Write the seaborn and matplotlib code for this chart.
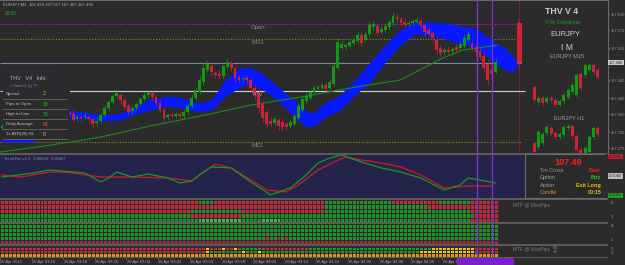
import matplotlib
matplotlib.use("Agg")
import matplotlib.pyplot as plt
from matplotlib.colors import ListedColormap
from matplotlib.patches import Rectangle
import numpy as np
import pandas as pd
import seaborn as sns

# ---------------- data ----------------
# EURJPY M1 candles, price = 107 + points/1000, one candle per minute
open_pts = [325,330,322,327,335,330,340,335,345,350,
            342,352,347,355,352,360,357,365,360,347,
            352,352,352,347,337,342,357,375,390,405,
            407,395,380,367,375,385,397,407,412,402,
            387,370,352,357,355,360,355,365,380,400,
            415,440,470,480,462,460,455,477,487,475,
            452,447,450,445,425,415,385,365,342,337,
            345,340,335,330,335,350,370,392,400,415,
            422,425,432,425,435,475,525,527,530,537,
            542,557,545,560,577,580,565,570,577,587,
            602,597,590,585,587,590,592,582,570,562,
            545,525,515,520,517,527,525,530,545,535,
            527,517,505,485,470,465,None,None,None,None,
            None,587]
close_pts = [330,322,327,335,330,340,335,345,350,342,
             352,347,355,360,362,365,365,357,345,352,
             350,355,347,335,342,357,375,390,405,412,
             395,377,365,375,385,397,407,415,402,387,
             370,350,357,355,360,355,365,380,400,420,
             445,475,485,465,457,455,480,490,475,450,
             445,450,445,425,407,375,350,335,335,347,
             330,327,327,340,355,380,397,405,415,425,
             427,432,422,440,480,540,535,532,540,545,
             557,537,560,582,585,562,572,580,590,605,
             597,587,582,587,592,595,582,565,560,550,
             520,512,520,515,522,520,535,550,560,525,
             515,502,475,445,460,490,None,None,None,None,
             None,487]
wick_up = [6,4,8,5,6,9,4,6,8,5, 6,4,9,6,5,8,6,4,9,6,
           5,8,6,4,9,6,8,5,6,10, 6,5,8,6,5,6,9,8,6,5,
           8,6,5,9,6,5,8,6,10,8, 9,12,10,8,6,9,5,10,8,6,
           5,6,8,5,6,9,8,6,10,8, 6,9,5,6,8,10,6,9,5,8,
           6,5,8,6,9,11,10,6,8,6, 9,8,6,10,8,6,9,8,6,11,
           8,6,9,5,6,8,9,6,8,6, 10,8,6,9,6,8,6,9,8,10,
           6,8,9,10,8,11,0,0,0,0, 0,6]
wick_dn = [5,6,4,8,6,5,8,4,6,9, 5,8,6,4,8,6,5,9,6,4,
           8,5,6,9,6,4,5,8,6,4, 9,6,5,8,6,5,4,6,9,8,
           6,10,8,5,6,8,5,6,4,5, 6,8,5,10,8,6,5,4,8,9,
           6,5,8,9,10,12,9,8,6,5, 10,8,6,5,4,6,5,4,6,5,
           4,6,8,5,4,6,5,6,4,5, 4,8,5,4,6,8,5,4,6,4,
           6,8,5,6,4,5,8,9,6,8, 10,8,6,5,8,6,5,4,6,8,
           9,8,10,12,8,6,0,0,0,0, 0,8]

# blue cloud (candle index, upper / lower points)
cloud_idx = [0,8,13,16.5,21,25,30,34,37.5,42.5,46,50,53,56.5,60,62.3,65.3,69,73,76.7,
             78.7,81.8,85.6,89.4,93.2,97,100.8,104.6,108.4,112.2,116,119.7,122.3,124.8,127.3,129.1,130.4]
cloud_hi = [300,300,370,370,365,357.5,362.5,380,397.5,405,400,387.5,395,445,475,477.5,465,435,402.5,370,
            362.5,387.5,407.5,445,490,532.5,570,590,590,587.5,580,575,557.5,540,525,507.5,490]
cloud_lo = [290,290,335,345,350,342.5,345,360,370,380,375,365,370,405,425,435,425,400,362.5,330,
            327.5,352.5,370,407.5,440,490,532.5,560,555,547.5,535,527.5,507.5,487.5,470,465,475]

# moving average
ma_idx = [-0.5,12.2,24.8,37.5,52.7,62.8,75.4,88.1,100.8,111.6,116.7,125.3]
ma_pts = [265,282,302,330,360,382,402,425,445,500,520,532]

# level lines (points)
level_names = ["Open", "MR1", "TPV", "MS1"]
level_pts = [585, 547.5, 417.5, 290]
bid_pts = 487.5
price_ticks = [107.610, 107.570, 107.525, 107.445, 107.400, 107.360, 107.315, 107.275]

# oscillator ("Trend Fire") lines
red_idx = [0,5,12,16,25,33,42,48,51,54,58,63,67,72,75,80,84,87,91,96,101,106,112,118,124]
red_val = [25,23,28,28,23,23,22,19,28,36,32,20,10,8,15,30,38,43,40,37,33,25,12,14,14]
green_idx = [0,8,12,21,25,27,29,33,37,42,45,48,51,53,58,63,68,73,77,80,83,86,91,96,101,106,112,116,118,121,125]
green_val = [23,27,30,27,18,22,28,23,26,22,17,19,28,33,32,18,5,12,25,37,42,45,38,32,28,22,10,15,22,20,17]

# crosshair times (candle index)
cross_idx = [120.25, 124.05]
current_idx = 131

# MTF heat panels (run-length coded rows; R red, G green, L light green, Y yellow, O orange, P pink)
panel1 = ["R50 G4 R28 G17 R12 G8 R7",
          "R82 G26 R18",
          "R48 G13 R21 G37 R7",
          "G48 R13 G59 R6",
          "G50 L11 G5 L5 G48 R7"]
panel2 = ["G126", "G126", "G126",
          "G67 R1 G2 R1 G1 R1 G53",
          "P126"]
panel3 = ["R52 Y1 R3 Y1 R2 Y1 R1 G5 R12 G31 Y11 R6",
          "R52 Y1 G8 Y1 G3 Y1 G40 Y14 R6",
          "O126"]

time_idx = [0,8,16,24,32,40,48,56,64,72,80,88,96,104,112]
time_labels = ["26 Apr 2012","26 Apr 03:10","26 Apr 03:18","26 Apr 03:26","26 Apr 03:34",
               "26 Apr 03:42","26 Apr 03:50","26 Apr 03:58","26 Apr 04:06","26 Apr 04:14",
               "26 Apr 04:22","26 Apr 04:30","26 Apr 04:38","26 Apr 04:46","26 Apr 04:54"]

# mini charts (relative values)
m15_open = [23,8,12,8,12,10,5,9,13,18,15,36,35,40,45,40]
m15_close = [10,12,7,12,10,5,9,15,20,25,35,22,45,45,38,33]
h1_open = [17,13,17,27,32,27,23,25,32,34,24,10,6,8,23,32]
h1_close = [8,28,26,33,26,23,26,33,34,24,10,6,12,23,32,26]

info_labels = ["Spread", "Pips to Open", "High to Low", "Daily Average", "3x ATR(20) SL"]
info_values = ["2", "16", "55", "81", "8"]
info_colors = ["#e0a020", "#20b020", "#20a020", "#e05a20", "#e0a020"]

# ---------------- style ----------------
W, H = 625, 265
BG = "#2b2b2b"
GREEN = "#129a12"
RED = "#d0203a"
sns.set_theme(style="dark", rc={"axes.facecolor": BG, "figure.facecolor": BG})
plt.rcParams["font.family"] = ["Liberation Sans", "DejaVu Sans"]

fig = plt.figure(figsize=(W / 100, H / 100), dpi=100)
fig.patch.set_facecolor(BG)

X0, DX = 2.0, 3.95
XL = (-X0 / DX, (608 - X0) / DX)


def pax(x0, y0, x1, y1, fc=BG, z=1):
    a = fig.add_axes([x0 / W, 1 - y1 / H, (x1 - x0) / W, (y1 - y0) / H], zorder=z)
    a.set_facecolor(fc)
    for s in a.spines.values():
        s.set_visible(False)
    a.set_xticks([])
    a.set_yticks([])
    return a


def T(x, y, s, **kw):
    kw.setdefault("color", "#a8a8a8")
    kw.setdefault("fontsize", 3.5)
    kw.setdefault("va", "center")
    return fig.text(x / W, 1 - y / H, s, **kw)


def P(v):
    return 107 + v / 1000.0


# separators
for y0, y1 in [(153, 155), (198, 200), (222, 224), (244, 246), (256.5, 257.5)]:
    fig.add_artist(Rectangle((0, 1 - y1 / H), 608 / W, (y1 - y0) / H,
                             transform=fig.transFigure, color="#5a5a5a", lw=0))

# ---------------- main chart ----------------
ax = pax(0, 0, 608, 153)
ax.fill_between(cloud_idx, [P(v) for v in cloud_lo], [P(v) for v in cloud_hi],
                color="#0818ff", lw=0, zorder=2)
sns.lineplot(x=ma_idx, y=[P(v) for v in ma_pts], ax=ax, color="#1c8a1c", lw=0.8,
             legend=False, zorder=2.5)
n = len(open_pts)
o_p = [None if v is None else P(v) for v in open_pts]
c_p = [None if v is None else P(v) for v in close_pts]
ws = [0.72] * (n - 1) + [1.4]
for k in range(n):
    if o_p[k] is None:
        continue
    col = GREEN if c_p[k] >= o_p[k] else RED
    lo, hi = min(o_p[k], c_p[k]), max(o_p[k], c_p[k])
    ax.vlines(k, lo - wick_dn[k] / 1000, hi + wick_up[k] / 1000, color=col, lw=0.5, zorder=3)
    ax.bar(k, max(hi - lo, 0.0012), bottom=lo, width=ws[k], color=col, lw=0, zorder=4)

end_i = current_idx + 0.3
ax.hlines(P(level_pts[0]), XL[0], end_i, color="#c020c0", lw=0.8, linestyles=(0, (1, 1.5)), zorder=1.5)
ax.hlines(P(level_pts[1]), XL[0], end_i, color="#8a8a28", lw=0.8, linestyles=(0, (1, 1.5)), zorder=1.5)
ax.hlines(P(bid_pts), XL[0], end_i, color="#7a88a8", lw=0.8, zorder=1.5)
ax.hlines(P(level_pts[2]), XL[0], end_i + 1, color="#d0d0d0", lw=0.8, zorder=1.5)
ax.hlines(P(level_pts[3]), XL[0], end_i, color="#8a8a28", lw=0.8, linestyles=(0, (1, 1.5)), zorder=1.5)
for nm, lv in zip(level_names, level_pts):
    ax.text(64.8, P(lv) - 0.003, nm, color="#8a8a8a", fontsize=4.3, ha="center", va="top", zorder=5)

for xi in cross_idx:
    ax.axvline(xi, color="#8a2be2", lw=0.9, zorder=6)
ax.axvline(current_idx - 0.1, color="#8b1a2a", lw=0.8, zorder=1)

ax.set_xlim(*XL)
ax.set_ylim(P(262.5), P(645))
ax.set_xlabel("")
ax.set_ylabel("")
ax.yaxis.tick_right()
ax.set_yticks(price_ticks)
ax.set_yticklabels([f"{p:.3f}" for p in price_ticks])
ax.tick_params(axis="y", colors="#7a7a7a", labelcolor="#9a9a9a", labelsize=2.9, length=1.5, pad=0.6,
               width=0.5, right=True, left=False)
for s in ["top", "right"]:
    ax.spines[s].set_visible(True)
    ax.spines[s].set_color("#6a6a6a")
    ax.spines[s].set_linewidth(0.8)

# current price label on the scale
T(609, 62.5, "107.490", fontsize=2.8, color="#202020",
  bbox=dict(boxstyle="square,pad=0.2", fc="#c8c8c8", ec="none"), zorder=10)

# header texts
T(3, 5, "EURJPY,M1  107.493 107.517 107.487 107.493", fontsize=3.1, color="#b0b0b0")
T(5, 13.5, "16/30", fontsize=3.4, color="#20a020")

# info box
fig.add_artist(Rectangle((3 / W, 1 - 140 / H), 67 / W, 70 / H, transform=fig.transFigure,
                         fc=BG, ec="none", zorder=8))
fig.add_artist(Rectangle((3 / W, 1 - 91 / H), 52 / W, 21 / H, transform=fig.transFigure,
                         fc="none", ec="#2a2a90", lw=0.6, ls=(0, (1, 1)), zorder=9))
T(10, 79, "THV   V4   Info", fontsize=3.9, color="#b8b8c8", zorder=10)
T(10, 86, "® Peter G. (c) ??", fontsize=2.6, color="#8a8a9a", zorder=10)
for k, (lab, val, vc) in enumerate(zip(info_labels, info_values, info_colors)):
    yy = 94 + 10 * k
    T(6, yy, lab, fontsize=3.2, color="#c0c0c0", zorder=10)
    T(43, yy, val, fontsize=4.0, color=vc, zorder=10)
    fig.add_artist(Rectangle((3 / W, 1 - (yy + 5.5) / H), 65 / W, 0.9 / H,
                             transform=fig.transFigure, fc="#5e5e5e", ec="none", zorder=9))

# right side panel texts
T(562, 12, "THV V 4", fontsize=6.3, color="#c8c8c8", weight="bold", ha="center")
T(563, 22.5, "© By Cobraforex", fontsize=3.4, color="#20a020", ha="center")
T(565, 34.5, "EURJPY", fontsize=5.5, color="#d0d0d0", ha="center")
T(567, 48, "I M", fontsize=6.2, color="#d0d0d0", ha="center")
T(567, 57, "EURJPY M15", fontsize=4.0, color="#a0a0a0", ha="center")
T(569, 118, "EURJPY H1", fontsize=4.0, color="#a0a0a0", ha="center")

# mini charts
am = pax(532, 60, 600, 107, fc="none", z=3)
am.patch.set_alpha(0)
for k, (o, c) in enumerate(zip(m15_open, m15_close)):
    col = GREEN if c >= o else RED
    am.vlines(k, min(o, c) - 2, max(o, c) + 2, color=col, lw=0.5)
    am.bar(k, max(abs(c - o), 1), bottom=min(o, c), width=0.7, color=col, lw=0)
am.set_xlim(-0.5, 15.5)
am.set_ylim(3, 50)
ah = pax(532, 120, 600, 153, fc="none", z=3)
ah.patch.set_alpha(0)
for k, (o, c) in enumerate(zip(h1_open, h1_close)):
    col = GREEN if c >= o else RED
    ah.vlines(k, min(o, c) - 2, max(o, c) + 2, color=col, lw=0.5)
    ah.bar(k, max(abs(c - o), 1), bottom=min(o, c), width=0.7, color=col, lw=0)
ah.set_xlim(-0.5, 15.5)
ah.set_ylim(7, 40)

# ---------------- oscillator panel ----------------
ai = pax(0, 155, 608, 198, fc="#23234c")
sns.lineplot(x=red_idx, y=red_val, ax=ai, color="#d4182a", lw=0.9, legend=False)
sns.lineplot(x=green_idx, y=green_val, ax=ai, color="#1a9a1a", lw=0.9, legend=False)
for xi in cross_idx:
    ai.axvline(xi, color="#8a2be2", lw=0.9)
ai.set_xlim(*XL)
ai.set_ylim(2, 45)
ai.set_xlabel("")
ai.set_ylabel("")
T(4, 158.5, "Trend Fire v1.3  -0.00606  -0.00607", fontsize=2.8, color="#9090a8")

fig.add_artist(Rectangle((525 / W, 1 - 198 / H), 80 / W, 44 / H, transform=fig.transFigure,
                         fc="#2a2a2a", ec="#707070", lw=0.7, zorder=5))
fig.add_artist(Rectangle((605 / W, 1 - 198 / H), 3 / W, 44 / H, transform=fig.transFigure,
                         fc=BG, ec="none", zorder=5))
T(568, 162.5, "107.49", fontsize=6.5, color="#ff2020", weight="bold", ha="center", zorder=6)
rows = [("Tm Cross", "Bear", "#e02020", "#a0a0a0"), ("Option", "Buy", "#20c020", "#a0a0a0"),
        ("Action", "Exit Long", "#e8c020", "#a0a0a0"), ("Candle", "00:15", "#e8c020", "#e09020")]
for k, (lab, val, vc, lc) in enumerate(rows):
    yy = 170.5 + 7.3 * k
    T(540, yy, lab, fontsize=3.9, color=lc, zorder=6)
    T(601, yy, val, fontsize=3.9, color=vc, ha="right", weight="bold", zorder=6)
T(570, 192.5, ":", fontsize=3.9, color="#e09020", zorder=6)

# indicator scale value boxes
for yy, fc, tx in [(156.5, "#c02030", "-0.0060"), (176, "#bcbcbc", "-0.0060"), (195.5, "#20a020", "-0.0061")]:
    T(609, yy, tx, fontsize=2.7, color="#202020",
      bbox=dict(boxstyle="square,pad=0.2", fc=fc, ec="none"), zorder=10)

# ---------------- MTF heat panels ----------------
codes = {"R": 0, "G": 1, "L": 2, "Y": 3, "O": 4, "P": 5}
cmap = ListedColormap(["#c4283a", "#1c9426", "#3cbc3c", "#f0c418", "#e8921a", "#a02a3e"])


def decode(rows_spec):
    mat = []
    for spec in rows_spec:
        row = []
        for tok in spec.split():
            row += [codes[tok[0]]] * int(tok[1:])
        mat.append(row)
    return pd.DataFrame(mat)


for (y0, y1), spec in [((200, 222), panel1), ((224, 244), panel2), ((246.5, 256.5), panel3)]:
    ah_ = pax(0, y0, 608, y1)
    sns.heatmap(decode(spec), ax=ah_, cmap=cmap, vmin=-0.5, vmax=5.5, cbar=False,
                linewidths=0.5, linecolor="#2e2e2e", xticklabels=False, yticklabels=False)
    for xi in cross_idx:
        ah_.axvline(xi + 0.5, color="#8a2be2", lw=0.9)
    ah_.set_xlim(XL[0] + 0.5, XL[1] + 0.5)
    ah_.set_ylim(len(spec), 0)
    ah_.set_xlabel("")
    ah_.set_ylabel("")

T(513, 206, "MTF @ MaxPips", fontsize=3.6, color="#7a7a7a")
T(513, 250, "MTF @ MaxPips", fontsize=3.6, color="#7a7a7a")
T(553, 248, "MS", fontsize=2.6, color="#8a8a8a")
T(553, 252, "4/5", fontsize=2.6, color="#8a8a8a")
for yy, s in [(203, "6"), (217, "1"), (226, "4"), (240, "1"), (248.5, "2"), (253.5, "1")]:
    T(611, yy, s, fontsize=3.2, color="#9a9a9a")

# ---------------- time axis ----------------
at = pax(0, 257.5, 608, 265)
at.set_xlim(*XL)
at.set_ylim(0, 1)
for xi, lab in zip(time_idx, time_labels):
    at.text(xi - 0.4, 0.45, lab, fontsize=3.0, color="#a8a8a8", va="center", ha="left")
    at.plot([xi - 0.5, xi - 0.5], [0.85, 1], color="#8a8a8a", lw=0.5)
at.add_patch(Rectangle((cross_idx[0] - 5.0, 0.0), 14.0, 1.0, color="#7a1fd0", zorder=5))

fig.savefig("out.png", dpi=100, facecolor=BG)
